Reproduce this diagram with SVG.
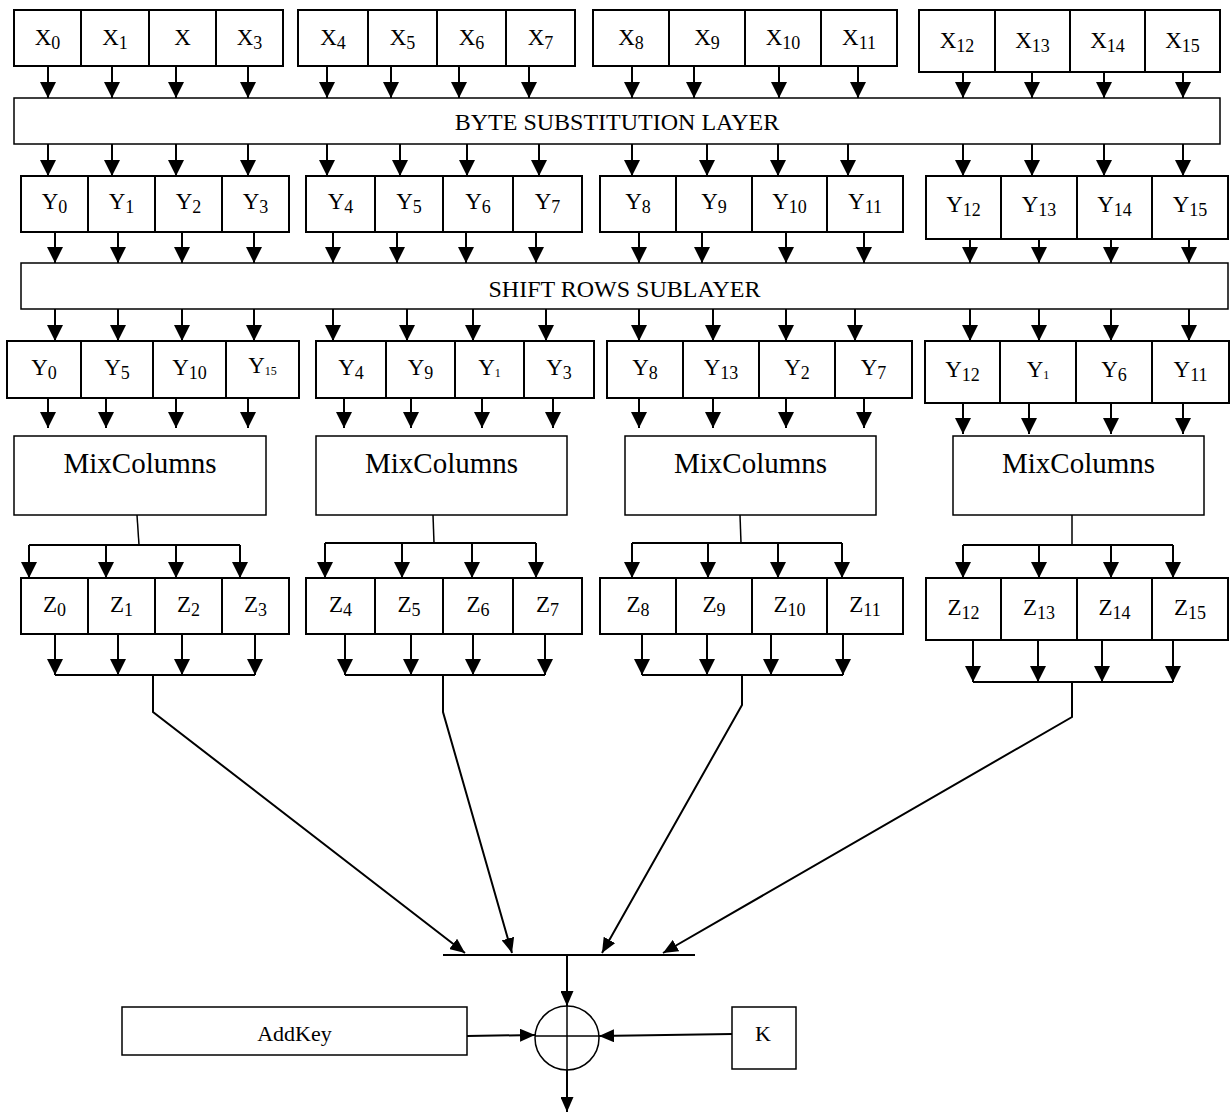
<svg xmlns="http://www.w3.org/2000/svg" width="1230" height="1113" viewBox="0 0 1230 1113">
  <style>
    .cell { fill: #fff; stroke: #000; stroke-width: 2; }
    .blk { fill: #fff; stroke: #000; stroke-width: 1.5; }
    .lbl { font-family: "Liberation Serif", "Times New Roman", serif; font-size: 23px; text-anchor: middle; fill: #000; }
    .txt { font-family: "Liberation Serif", "Times New Roman", serif; font-size: 22px; text-anchor: middle; fill: #000; }
    .sub { font-size: 18px; }
    .subs { font-size: 12px; }
    .big { font-family: "Liberation Serif", "Times New Roman", serif; font-size: 24px; text-anchor: middle; fill: #000; }
    .mc { font-family: "Liberation Serif", "Times New Roman", serif; font-size: 29px; text-anchor: middle; fill: #000; }
    .w { fill: none; stroke: #000; stroke-width: 2; }
    .thin { fill: none; stroke: #000; stroke-width: 1.5; }
    .a { fill: none; stroke: #000; stroke-width: 2; marker-end: url(#ah); }
    .a2 { fill: none; stroke: #000; stroke-width: 2; marker-end: url(#ah2); }
  </style>
  <defs>
    <marker id="ah" viewBox="0 0 16 16" refX="16" refY="8" markerWidth="16" markerHeight="16" markerUnits="userSpaceOnUse" orient="auto">
      <path d="M0,0 L16,8 L0,16 z" fill="#000"/>
    </marker>
    <marker id="ah2" viewBox="0 0 15 13" refX="15" refY="6.5" markerWidth="15" markerHeight="13" markerUnits="userSpaceOnUse" orient="auto">
      <path d="M0,0 L15,6.5 L0,13 z" fill="#000"/>
    </marker>
  </defs>

  <!-- input bytes X -->
  <g id="x0"><rect class="cell" x="14" y="10" width="67" height="56"/><text class="lbl" x="47.5" y="45">X<tspan class="sub" dy="4">0</tspan></text></g>
  <g id="x1"><rect class="cell" x="81" y="10" width="68" height="56"/><text class="lbl" x="115" y="45">X<tspan class="sub" dy="4">1</tspan></text></g>
  <g id="x2"><rect class="cell" x="149" y="10" width="67" height="56"/><text class="lbl" x="182.5" y="45">X</text></g>
  <g id="x3"><rect class="cell" x="216" y="10" width="67" height="56"/><text class="lbl" x="249.5" y="45">X<tspan class="sub" dy="4">3</tspan></text></g>
  <g id="x4"><rect class="cell" x="298" y="10" width="70" height="56"/><text class="lbl" x="333" y="45">X<tspan class="sub" dy="4">4</tspan></text></g>
  <g id="x5"><rect class="cell" x="368" y="10" width="69" height="56"/><text class="lbl" x="402.5" y="45">X<tspan class="sub" dy="4">5</tspan></text></g>
  <g id="x6"><rect class="cell" x="437" y="10" width="69" height="56"/><text class="lbl" x="471.5" y="45">X<tspan class="sub" dy="4">6</tspan></text></g>
  <g id="x7"><rect class="cell" x="506" y="10" width="69" height="56"/><text class="lbl" x="540.5" y="45">X<tspan class="sub" dy="4">7</tspan></text></g>
  <g id="x8"><rect class="cell" x="593" y="10" width="76" height="56"/><text class="lbl" x="631" y="45">X<tspan class="sub" dy="4">8</tspan></text></g>
  <g id="x9"><rect class="cell" x="669" y="10" width="76" height="56"/><text class="lbl" x="707" y="45">X<tspan class="sub" dy="4">9</tspan></text></g>
  <g id="x10"><rect class="cell" x="745" y="10" width="76" height="56"/><text class="lbl" x="783" y="45">X<tspan class="sub" dy="4">10</tspan></text></g>
  <g id="x11"><rect class="cell" x="821" y="10" width="76" height="56"/><text class="lbl" x="859" y="45">X<tspan class="sub" dy="4">11</tspan></text></g>
  <g id="x12"><rect class="cell" x="919" y="10" width="76" height="62"/><text class="lbl" x="957" y="48">X<tspan class="sub" dy="4">12</tspan></text></g>
  <g id="x13"><rect class="cell" x="995" y="10" width="75" height="62"/><text class="lbl" x="1032.5" y="48">X<tspan class="sub" dy="4">13</tspan></text></g>
  <g id="x14"><rect class="cell" x="1070" y="10" width="75" height="62"/><text class="lbl" x="1107.5" y="48">X<tspan class="sub" dy="4">14</tspan></text></g>
  <g id="x15"><rect class="cell" x="1145" y="10" width="75" height="62"/><text class="lbl" x="1182.5" y="48">X<tspan class="sub" dy="4">15</tspan></text></g>

  <!-- byte substitution layer -->
  <g id="byte-sub"><rect class="blk" x="14" y="98" width="1206" height="46"/><text class="big" x="617" y="130">BYTE SUBSTITUTION LAYER</text></g>

  <!-- substituted bytes Y -->
  <g id="y0"><rect class="cell" x="21" y="176" width="67" height="56"/><text class="lbl" x="54.5" y="209">Y<tspan class="sub" dy="4">0</tspan></text></g>
  <g id="y1"><rect class="cell" x="88" y="176" width="67" height="56"/><text class="lbl" x="121.5" y="209">Y<tspan class="sub" dy="4">1</tspan></text></g>
  <g id="y2"><rect class="cell" x="155" y="176" width="67" height="56"/><text class="lbl" x="188.5" y="209">Y<tspan class="sub" dy="4">2</tspan></text></g>
  <g id="y3"><rect class="cell" x="222" y="176" width="67" height="56"/><text class="lbl" x="255.5" y="209">Y<tspan class="sub" dy="4">3</tspan></text></g>
  <g id="y4"><rect class="cell" x="306" y="176" width="69" height="56"/><text class="lbl" x="340.5" y="209">Y<tspan class="sub" dy="4">4</tspan></text></g>
  <g id="y5"><rect class="cell" x="375" y="176" width="68" height="56"/><text class="lbl" x="409" y="209">Y<tspan class="sub" dy="4">5</tspan></text></g>
  <g id="y6"><rect class="cell" x="443" y="176" width="70" height="56"/><text class="lbl" x="478" y="209">Y<tspan class="sub" dy="4">6</tspan></text></g>
  <g id="y7"><rect class="cell" x="513" y="176" width="69" height="56"/><text class="lbl" x="547.5" y="209">Y<tspan class="sub" dy="4">7</tspan></text></g>
  <g id="y8"><rect class="cell" x="600" y="176" width="76" height="56"/><text class="lbl" x="638" y="209">Y<tspan class="sub" dy="4">8</tspan></text></g>
  <g id="y9"><rect class="cell" x="676" y="176" width="76" height="56"/><text class="lbl" x="714" y="209">Y<tspan class="sub" dy="4">9</tspan></text></g>
  <g id="y10"><rect class="cell" x="752" y="176" width="75" height="56"/><text class="lbl" x="789.5" y="209">Y<tspan class="sub" dy="4">10</tspan></text></g>
  <g id="y11"><rect class="cell" x="827" y="176" width="76" height="56"/><text class="lbl" x="865" y="209">Y<tspan class="sub" dy="4">11</tspan></text></g>
  <g id="y12"><rect class="cell" x="926" y="176" width="75" height="63"/><text class="lbl" x="963.5" y="212">Y<tspan class="sub" dy="4">12</tspan></text></g>
  <g id="y13"><rect class="cell" x="1001" y="176" width="76" height="63"/><text class="lbl" x="1039" y="212">Y<tspan class="sub" dy="4">13</tspan></text></g>
  <g id="y14"><rect class="cell" x="1077" y="176" width="75" height="63"/><text class="lbl" x="1114.5" y="212">Y<tspan class="sub" dy="4">14</tspan></text></g>
  <g id="y15"><rect class="cell" x="1152" y="176" width="76" height="63"/><text class="lbl" x="1190" y="212">Y<tspan class="sub" dy="4">15</tspan></text></g>

  <!-- shift rows sublayer -->
  <g id="shift-rows"><rect class="blk" x="21" y="263" width="1207" height="46"/><text class="big" x="624.5" y="297">SHIFT ROWS SUBLAYER</text></g>

  <!-- shifted bytes -->
  <g id="s0"><rect class="cell" x="7" y="341" width="74" height="57"/><text class="lbl" x="44" y="375">Y<tspan class="sub" dy="4">0</tspan></text></g>
  <g id="s1"><rect class="cell" x="81" y="341" width="72" height="57"/><text class="lbl" x="117" y="375">Y<tspan class="sub" dy="4">5</tspan></text></g>
  <g id="s2"><rect class="cell" x="153" y="341" width="73" height="57"/><text class="lbl" x="189.5" y="375">Y<tspan class="sub" dy="4">10</tspan></text></g>
  <g id="s3"><rect class="cell" x="226" y="341" width="73" height="57"/><text class="lbl" x="262.5" y="373">Y<tspan class="subs" dy="2">15</tspan></text></g>
  <g id="s4"><rect class="cell" x="316" y="341" width="70" height="57"/><text class="lbl" x="351" y="375">Y<tspan class="sub" dy="4">4</tspan></text></g>
  <g id="s5"><rect class="cell" x="386" y="341" width="69" height="57"/><text class="lbl" x="420.5" y="375">Y<tspan class="sub" dy="4">9</tspan></text></g>
  <g id="s6"><rect class="cell" x="455" y="341" width="69" height="57"/><text class="lbl" x="489.5" y="375">Y<tspan class="subs" dy="2">1</tspan></text></g>
  <g id="s7"><rect class="cell" x="524" y="341" width="70" height="57"/><text class="lbl" x="559" y="375">Y<tspan class="sub" dy="4">3</tspan></text></g>
  <g id="s8"><rect class="cell" x="607" y="341" width="76" height="57"/><text class="lbl" x="645" y="375">Y<tspan class="sub" dy="4">8</tspan></text></g>
  <g id="s9"><rect class="cell" x="683" y="341" width="76" height="57"/><text class="lbl" x="721" y="375">Y<tspan class="sub" dy="4">13</tspan></text></g>
  <g id="s10"><rect class="cell" x="759" y="341" width="76" height="57"/><text class="lbl" x="797" y="375">Y<tspan class="sub" dy="4">2</tspan></text></g>
  <g id="s11"><rect class="cell" x="835" y="341" width="77" height="57"/><text class="lbl" x="873.5" y="375">Y<tspan class="sub" dy="4">7</tspan></text></g>
  <g id="s12"><rect class="cell" x="925" y="341" width="75" height="62"/><text class="lbl" x="962.5" y="377">Y<tspan class="sub" dy="4">12</tspan></text></g>
  <g id="s13"><rect class="cell" x="1000" y="341" width="76" height="62"/><text class="lbl" x="1038" y="377">Y<tspan class="subs" dy="2">1</tspan></text></g>
  <g id="s14"><rect class="cell" x="1076" y="341" width="76" height="62"/><text class="lbl" x="1114" y="377">Y<tspan class="sub" dy="4">6</tspan></text></g>
  <g id="s15"><rect class="cell" x="1152" y="341" width="77" height="62"/><text class="lbl" x="1190.5" y="377">Y<tspan class="sub" dy="4">11</tspan></text></g>

  <!-- MixColumns blocks -->
  <g id="mix0"><rect class="blk" x="14" y="436" width="252" height="79"/><text class="mc" x="140" y="473">MixColumns</text></g>
  <g id="mix1"><rect class="blk" x="316" y="436" width="251" height="79"/><text class="mc" x="441.5" y="473">MixColumns</text></g>
  <g id="mix2"><rect class="blk" x="625" y="436" width="251" height="79"/><text class="mc" x="750.5" y="473">MixColumns</text></g>
  <g id="mix3"><rect class="blk" x="953" y="436" width="251" height="79"/><text class="mc" x="1078.5" y="473">MixColumns</text></g>

  <!-- mixed bytes Z -->
  <g id="z0"><rect class="cell" x="21" y="578" width="67" height="56"/><text class="lbl" x="54.5" y="612">Z<tspan class="sub" dy="4">0</tspan></text></g>
  <g id="z1"><rect class="cell" x="88" y="578" width="67" height="56"/><text class="lbl" x="121.5" y="612">Z<tspan class="sub" dy="4">1</tspan></text></g>
  <g id="z2"><rect class="cell" x="155" y="578" width="67" height="56"/><text class="lbl" x="188.5" y="612">Z<tspan class="sub" dy="4">2</tspan></text></g>
  <g id="z3"><rect class="cell" x="222" y="578" width="67" height="56"/><text class="lbl" x="255.5" y="612">Z<tspan class="sub" dy="4">3</tspan></text></g>
  <g id="z4"><rect class="cell" x="306" y="578" width="69" height="56"/><text class="lbl" x="340.5" y="612">Z<tspan class="sub" dy="4">4</tspan></text></g>
  <g id="z5"><rect class="cell" x="375" y="578" width="68" height="56"/><text class="lbl" x="409" y="612">Z<tspan class="sub" dy="4">5</tspan></text></g>
  <g id="z6"><rect class="cell" x="443" y="578" width="70" height="56"/><text class="lbl" x="478" y="612">Z<tspan class="sub" dy="4">6</tspan></text></g>
  <g id="z7"><rect class="cell" x="513" y="578" width="69" height="56"/><text class="lbl" x="547.5" y="612">Z<tspan class="sub" dy="4">7</tspan></text></g>
  <g id="z8"><rect class="cell" x="600" y="578" width="76" height="56"/><text class="lbl" x="638" y="612">Z<tspan class="sub" dy="4">8</tspan></text></g>
  <g id="z9"><rect class="cell" x="676" y="578" width="76" height="56"/><text class="lbl" x="714" y="612">Z<tspan class="sub" dy="4">9</tspan></text></g>
  <g id="z10"><rect class="cell" x="752" y="578" width="75" height="56"/><text class="lbl" x="789.5" y="612">Z<tspan class="sub" dy="4">10</tspan></text></g>
  <g id="z11"><rect class="cell" x="827" y="578" width="76" height="56"/><text class="lbl" x="865" y="612">Z<tspan class="sub" dy="4">11</tspan></text></g>
  <g id="z12"><rect class="cell" x="926" y="578" width="75" height="62"/><text class="lbl" x="963.5" y="615">Z<tspan class="sub" dy="4">12</tspan></text></g>
  <g id="z13"><rect class="cell" x="1001" y="578" width="76" height="62"/><text class="lbl" x="1039" y="615">Z<tspan class="sub" dy="4">13</tspan></text></g>
  <g id="z14"><rect class="cell" x="1077" y="578" width="75" height="62"/><text class="lbl" x="1114.5" y="615">Z<tspan class="sub" dy="4">14</tspan></text></g>
  <g id="z15"><rect class="cell" x="1152" y="578" width="76" height="62"/><text class="lbl" x="1190" y="615">Z<tspan class="sub" dy="4">15</tspan></text></g>

  <!-- key addition -->
  <g id="addkey"><rect class="blk" x="122" y="1007" width="345" height="48"/><text class="txt" x="294.5" y="1041">AddKey</text></g>
  <g id="key"><rect class="blk" x="732" y="1007" width="64" height="62"/><text class="txt" x="763" y="1041">K</text></g>
  <g id="xor">
    <circle class="thin" cx="567" cy="1038" r="32"/>
    <line class="thin" x1="535" y1="1036" x2="599" y2="1036"/>
  </g>

  <g id="connectors">
    <!-- X to byte substitution -->
    <line class="a" x1="48" y1="66" x2="48" y2="98"/>
    <line class="a" x1="112" y1="66" x2="112" y2="98"/>
    <line class="a" x1="176" y1="66" x2="176" y2="98"/>
    <line class="a" x1="248" y1="66" x2="248" y2="98"/>
    <line class="a" x1="327" y1="66" x2="327" y2="98"/>
    <line class="a" x1="391" y1="66" x2="391" y2="98"/>
    <line class="a" x1="459" y1="66" x2="459" y2="98"/>
    <line class="a" x1="529" y1="66" x2="529" y2="98"/>
    <line class="a" x1="632" y1="66" x2="632" y2="98"/>
    <line class="a" x1="694" y1="66" x2="694" y2="98"/>
    <line class="a" x1="779" y1="66" x2="779" y2="98"/>
    <line class="a" x1="858" y1="66" x2="858" y2="98"/>
    <line class="a" x1="963" y1="72" x2="963" y2="98"/>
    <line class="a" x1="1032" y1="72" x2="1032" y2="98"/>
    <line class="a" x1="1104" y1="72" x2="1104" y2="98"/>
    <line class="a" x1="1183" y1="72" x2="1183" y2="98"/>

    <!-- byte substitution to Y -->
    <line class="a" x1="48" y1="144" x2="48" y2="176"/>
    <line class="a" x1="112" y1="144" x2="112" y2="176"/>
    <line class="a" x1="176" y1="144" x2="176" y2="176"/>
    <line class="a" x1="248" y1="144" x2="248" y2="176"/>
    <line class="a" x1="327" y1="144" x2="327" y2="176"/>
    <line class="a" x1="400" y1="144" x2="400" y2="176"/>
    <line class="a" x1="467" y1="144" x2="467" y2="176"/>
    <line class="a" x1="539" y1="144" x2="539" y2="176"/>
    <line class="a" x1="632" y1="144" x2="632" y2="176"/>
    <line class="a" x1="707" y1="144" x2="707" y2="176"/>
    <line class="a" x1="778" y1="144" x2="778" y2="176"/>
    <line class="a" x1="848" y1="144" x2="848" y2="176"/>
    <line class="a" x1="963" y1="144" x2="963" y2="176"/>
    <line class="a" x1="1032" y1="144" x2="1032" y2="176"/>
    <line class="a" x1="1104" y1="144" x2="1104" y2="176"/>
    <line class="a" x1="1183" y1="144" x2="1183" y2="176"/>

    <!-- Y to shift rows -->
    <line class="a" x1="55" y1="232" x2="55" y2="263"/>
    <line class="a" x1="118" y1="232" x2="118" y2="263"/>
    <line class="a" x1="182" y1="232" x2="182" y2="263"/>
    <line class="a" x1="254" y1="232" x2="254" y2="263"/>
    <line class="a" x1="333" y1="232" x2="333" y2="263"/>
    <line class="a" x1="397" y1="232" x2="397" y2="263"/>
    <line class="a" x1="466" y1="232" x2="466" y2="263"/>
    <line class="a" x1="536" y1="232" x2="536" y2="263"/>
    <line class="a" x1="639" y1="232" x2="639" y2="263"/>
    <line class="a" x1="702" y1="232" x2="702" y2="263"/>
    <line class="a" x1="786" y1="232" x2="786" y2="263"/>
    <line class="a" x1="864" y1="232" x2="864" y2="263"/>
    <line class="a" x1="970" y1="239" x2="970" y2="263"/>
    <line class="a" x1="1039" y1="239" x2="1039" y2="263"/>
    <line class="a" x1="1111" y1="239" x2="1111" y2="263"/>
    <line class="a" x1="1189" y1="239" x2="1189" y2="263"/>

    <!-- shift rows to shifted bytes -->
    <line class="a" x1="55" y1="309" x2="55" y2="341"/>
    <line class="a" x1="118" y1="309" x2="118" y2="341"/>
    <line class="a" x1="182" y1="309" x2="182" y2="341"/>
    <line class="a" x1="254" y1="309" x2="254" y2="341"/>
    <line class="a" x1="333" y1="309" x2="333" y2="341"/>
    <line class="a" x1="407" y1="309" x2="407" y2="341"/>
    <line class="a" x1="473" y1="309" x2="473" y2="341"/>
    <line class="a" x1="546" y1="309" x2="546" y2="341"/>
    <line class="a" x1="639" y1="309" x2="639" y2="341"/>
    <line class="a" x1="713" y1="309" x2="713" y2="341"/>
    <line class="a" x1="786" y1="309" x2="786" y2="341"/>
    <line class="a" x1="855" y1="309" x2="855" y2="341"/>
    <line class="a" x1="970" y1="309" x2="970" y2="341"/>
    <line class="a" x1="1039" y1="309" x2="1039" y2="341"/>
    <line class="a" x1="1111" y1="309" x2="1111" y2="341"/>
    <line class="a" x1="1189" y1="309" x2="1189" y2="341"/>

    <!-- shifted bytes to MixColumns -->
    <line class="a" x1="48" y1="398" x2="48" y2="428"/>
    <line class="a" x1="106" y1="398" x2="106" y2="428"/>
    <line class="a" x1="176" y1="398" x2="176" y2="428"/>
    <line class="a" x1="248" y1="398" x2="248" y2="428"/>
    <line class="a" x1="344" y1="398" x2="344" y2="428"/>
    <line class="a" x1="411" y1="398" x2="411" y2="428"/>
    <line class="a" x1="482" y1="398" x2="482" y2="428"/>
    <line class="a" x1="553" y1="398" x2="553" y2="428"/>
    <line class="a" x1="639" y1="398" x2="639" y2="428"/>
    <line class="a" x1="713" y1="398" x2="713" y2="428"/>
    <line class="a" x1="786" y1="398" x2="786" y2="428"/>
    <line class="a" x1="864" y1="398" x2="864" y2="428"/>
    <line class="a" x1="963" y1="403" x2="963" y2="434"/>
    <line class="a" x1="1029" y1="403" x2="1029" y2="434"/>
    <line class="a" x1="1111" y1="403" x2="1111" y2="434"/>
    <line class="a" x1="1183" y1="403" x2="1183" y2="434"/>

    <!-- MixColumns fan-out to Z -->
    <line class="thin" x1="137" y1="515" x2="139" y2="545"/>
    <line class="w" x1="29" y1="545" x2="240" y2="545"/>
    <line class="a" x1="29" y1="545" x2="29" y2="578"/>
    <line class="a" x1="106" y1="545" x2="106" y2="578"/>
    <line class="a" x1="176" y1="545" x2="176" y2="578"/>
    <line class="a" x1="240" y1="545" x2="240" y2="578"/>

    <line class="thin" x1="433" y1="515" x2="434" y2="543"/>
    <line class="w" x1="325" y1="543" x2="536" y2="543"/>
    <line class="a" x1="325" y1="543" x2="325" y2="578"/>
    <line class="a" x1="402" y1="543" x2="402" y2="578"/>
    <line class="a" x1="472" y1="543" x2="472" y2="578"/>
    <line class="a" x1="536" y1="543" x2="536" y2="578"/>

    <line class="thin" x1="740" y1="515" x2="741" y2="543"/>
    <line class="w" x1="632" y1="543" x2="842" y2="543"/>
    <line class="a" x1="632" y1="543" x2="632" y2="578"/>
    <line class="a" x1="708" y1="543" x2="708" y2="578"/>
    <line class="a" x1="778" y1="543" x2="778" y2="578"/>
    <line class="a" x1="842" y1="543" x2="842" y2="578"/>

    <line class="thin" x1="1072" y1="515" x2="1072" y2="545"/>
    <line class="w" x1="963" y1="545" x2="1173" y2="545"/>
    <line class="a" x1="963" y1="545" x2="963" y2="578"/>
    <line class="a" x1="1039" y1="545" x2="1039" y2="578"/>
    <line class="a" x1="1111" y1="545" x2="1111" y2="578"/>
    <line class="a" x1="1173" y1="545" x2="1173" y2="578"/>

    <!-- Z collected per column -->
    <line class="a" x1="55" y1="634" x2="55" y2="675"/>
    <line class="a" x1="118" y1="634" x2="118" y2="675"/>
    <line class="a" x1="182" y1="634" x2="182" y2="675"/>
    <line class="a" x1="255" y1="634" x2="255" y2="675"/>
    <line class="w" x1="55" y1="675" x2="255" y2="675"/>

    <line class="a" x1="345" y1="634" x2="345" y2="675"/>
    <line class="a" x1="411" y1="634" x2="411" y2="675"/>
    <line class="a" x1="473" y1="634" x2="473" y2="675"/>
    <line class="a" x1="545" y1="634" x2="545" y2="675"/>
    <line class="w" x1="345" y1="675" x2="545" y2="675"/>

    <line class="a" x1="642" y1="634" x2="642" y2="675"/>
    <line class="a" x1="707" y1="634" x2="707" y2="675"/>
    <line class="a" x1="771" y1="634" x2="771" y2="675"/>
    <line class="a" x1="843" y1="634" x2="843" y2="675"/>
    <line class="w" x1="642" y1="675" x2="843" y2="675"/>

    <line class="a" x1="973" y1="640" x2="973" y2="682"/>
    <line class="a" x1="1038" y1="640" x2="1038" y2="682"/>
    <line class="a" x1="1102" y1="640" x2="1102" y2="682"/>
    <line class="a" x1="1173" y1="640" x2="1173" y2="682"/>
    <line class="w" x1="973" y1="682" x2="1173" y2="682"/>

    <!-- columns merged onto the collector bar -->
    <polyline class="a2" points="153,675 153,712 465,953"/>
    <polyline class="a2" points="443,675 443,712 512,953"/>
    <polyline class="a2" points="742,675 742,705 602,953"/>
    <polyline class="a2" points="1072,682 1072,717 663,953"/>
    <line class="w" x1="443" y1="955" x2="695" y2="955"/>

    <!-- into and out of the XOR -->
    <line class="a2" x1="567" y1="955" x2="567" y2="1006"/>
    <line class="thin" x1="567" y1="1006" x2="567" y2="1070"/>
    <line class="a2" x1="567" y1="1070" x2="567" y2="1112"/>
    <line class="a2" x1="467" y1="1036" x2="535" y2="1035"/>
    <line class="a2" x1="732" y1="1034" x2="599" y2="1036"/>
  </g>
</svg>
